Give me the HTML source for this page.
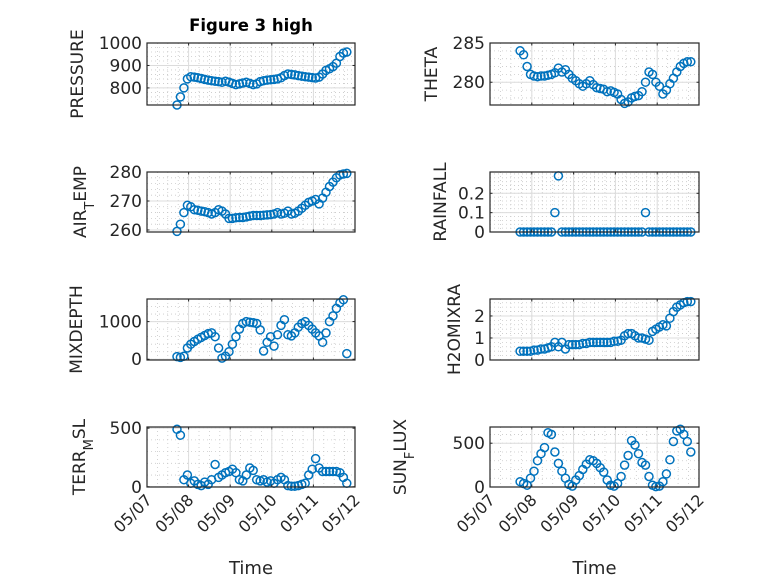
<!DOCTYPE html>
<html><head><meta charset="utf-8"><style>
body{margin:0;background:#fff;}
svg text{font-family:"DejaVu Sans","Liberation Sans",sans-serif;fill:#262626;}
</style></head><body>
<svg id="fig" width="778" height="583" viewBox="0 0 778 583" xmlns="http://www.w3.org/2000/svg">
<rect width="778" height="583" fill="#fff"/>
<text x="251" y="31" text-anchor="middle" font-size="16.5" font-weight="bold" style="fill:#000">Figure 3 high</text>
</svg>
<script>
const times = [];
for (let i = 0; i < 50; i++) times.push(0.72 + i / 12);
const xTickLabels = ["05/07","05/08","05/09","05/10","05/11","05/12"];
const pressure = [724,760,800,840,850,848,845,842,838,835,832,830,828,825,830,826,820,815,818,822,825,820,815,818,828,832,835,836,838,840,845,855,862,860,858,855,852,850,848,846,844,848,862,878,885,895,910,940,955,960];
const theta = [284,283.5,282,281,280.8,280.7,280.8,280.8,280.9,281,281.2,281.8,281.3,281.6,281,280.5,280.2,279.8,279.5,279.8,280.2,279.7,279.3,279.2,279.1,278.8,278.9,278.7,278.5,277.8,277.3,277.5,278,278.2,278.3,278.8,280,281.3,281,280,279.5,278.5,279,279.8,280.5,281.3,282,282.4,282.6,282.6];
const airTemp = [259.5,262,266,268.5,268,267,266.8,266.5,266.3,266,265.5,266,267,266.5,265.5,264,264,264.2,264.3,264.3,264.5,264.8,265,265,265,265.1,265.2,265.3,265.5,266,265.5,265.8,266.5,265.5,265.8,266.5,267.5,268.5,269.5,270,270.5,269,271,273,275,276.5,278,279,279.3,279.5];
const rainfall = [0,0,0,0,0,0,0,0,0,0,0.1,0.29,0,0,0,0,0,0,0,0,0,0,0,0,0,0,0,0,0,0,0,0,0,0,0,0,0.1,0,0,0,0,0,0,0,0,0,0,0,0,0];
const mixDepth = [70,50,80,300,400,470,530,580,630,680,700,600,300,30,80,200,400,600,800,950,1000,980,970,950,780,220,450,600,350,650,900,1050,650,620,700,850,950,1000,900,800,700,620,450,700,1000,1150,1350,1500,1580,150];
const h2oMix = [.4,.4,.4,.4,.45,.45,.5,.5,.55,.6,.8,.6,.8,.5,.7,.7,.7,.7,.75,.75,.8,.8,.8,.8,.8,.8,.8,.85,.85,.9,1.1,1.2,1.2,1.1,1.0,1.0,.95,.9,1.3,1.4,1.5,1.6,1.55,1.9,2.2,2.4,2.5,2.6,2.65,2.65];
const terrMsl = [490,440,60,100,30,50,20,10,40,20,60,190,80,100,120,130,150,120,60,50,100,160,140,60,50,60,40,50,30,60,80,60,10,5,5,10,20,30,100,150,240,160,130,130,130,130,130,120,80,30];
const sunFlux = [60,40,20,100,180,300,380,450,620,600,400,270,180,100,30,10,80,130,200,260,310,300,270,220,170,80,20,10,40,120,250,360,530,480,380,280,250,120,20,5,10,60,150,310,520,640,660,600,520,400];

const NS = "http://www.w3.org/2000/svg";
const svg = document.getElementById('fig');
function mk(tag, attrs, parent) {
  const e = document.createElementNS(NS, tag);
  for (const k in attrs) e.setAttribute(k, attrs[k]);
  (parent || svg).appendChild(e);
  return e;
}
const cols = [{x0:147,x1:355},{x0:490,x1:699}];
const rows = [{y0:43,y1:105},{y0:172,y1:232},{y0:299,y1:360},{y0:427,y1:487}];
const panels = [
  {name:'pressure',data:pressure,c:0,r:0,ymin:724,ymax:1000,ticks:[800,900,1000],minor:20,label:['PRESSURE'],lx:83},
  {name:'theta',data:theta,c:1,r:0,ymin:277.1,ymax:285,ticks:[280,285],minor:1,label:['THETA'],lx:437},
  {name:'air-temp',data:airTemp,c:0,r:1,ymin:259.3,ymax:280,ticks:[260,270,280],minor:2,label:['AIR','T','EMP'],lx:86},
  {name:'rainfall',data:rainfall,c:1,r:1,ymin:0,ymax:0.31,ticks:[0,0.1,0.2],minor:0.02,label:['RAINFALL'],lx:446},
  {name:'mix-depth',data:mixDepth,c:0,r:2,ymin:-20,ymax:1600,ticks:[0,1000],minor:200,label:['MIXDEPTH'],lx:82},
  {name:'h2o-mix-ratio',data:h2oMix,c:1,r:2,ymin:0,ymax:2.77,ticks:[0,1,2],minor:0.2,label:['H2OMIXRA'],lx:460},
  {name:'terr-msl',data:terrMsl,c:0,r:3,ymin:-2,ymax:510,ticks:[0,500],minor:100,label:['TERR','M','SL'],lx:85},
  {name:'sun-flux',data:sunFlux,c:1,r:3,ymin:0,ymax:685,ticks:[0,500],minor:100,label:['SUN','F','LUX'],lx:406}
];
panels.forEach(p => {
  const {x0,x1} = cols[p.c], {y0,y1} = rows[p.r];
  const xs = t => x0 + (t / 5) * (x1 - x0);
  const ys = v => y1 - (v - p.ymin) / (p.ymax - p.ymin) * (y1 - y0);
  const g = mk('g', {});
  
  
  mk('rect', {x:x0,y:y0,width:x1-x0,height:y1-y0,fill:'#fff'}, g);
  for (let v = Math.ceil(p.ymin / p.minor) * p.minor; v <= p.ymax; v += p.minor) {
    const y = ys(v);
    mk('line', {x1:x0,x2:x1,y1:y,y2:y,stroke:'#c8c8c8','stroke-width':0.8,'stroke-dasharray':'1,3'}, g);
  }
  for (let d = 0; d < 5; d += 0.25) {
    const x = xs(d);
    mk('line', {x1:x,x2:x,y1:y0,y2:y1,stroke:'#c8c8c8','stroke-width':0.8,'stroke-dasharray':'1,3'}, g);
  }
  p.ticks.forEach(v => { const y = ys(v); mk('line', {x1:x0,x2:x1,y1:y,y2:y,stroke:'#dcdcdc','stroke-width':1}, g); });
  for (let d = 1; d < 5; d++) { const x = xs(d); mk('line', {x1:x,x2:x,y1:y0,y2:y1,stroke:'#dcdcdc','stroke-width':1}, g); }
  const ser = mk('g', {fill:'none',stroke:'#0072BD','stroke-width':1.5}, g);
  
  
  p.data.forEach((v, i) => {
    const c = mk('circle', {cx:xs(times[i]).toFixed(1), cy:ys(v).toFixed(1), r:4}, ser);
    
    
  });
  mk('rect', {x:x0,y:y0,width:x1-x0,height:y1-y0,fill:'none',stroke:'#262626','stroke-width':1.2}, g);
  p.ticks.forEach(v => {
    const y = ys(v);
    mk('line', {x1:x0,x2:x0+2.5,y1:y,y2:y,stroke:'#262626'}, g);
    mk('line', {x1:x1,x2:x1-2.5,y1:y,y2:y,stroke:'#262626'}, g);
    const t = mk('text', {x:x0-5,y:y+6,'text-anchor':'end','font-size':17}, g);
    
    
    t.textContent = String(v);
  });
  for (let d = 0; d <= 5; d++) {
    const x = xs(d);
    mk('line', {x1:x,x2:x,y1:y1,y2:y1-2.5,stroke:'#262626'}, g);
    mk('line', {x1:x,x2:x,y1:y0,y2:y0+2.5,stroke:'#262626'}, g);
    if (p.r === 3) {
      const t = mk('text', {x:x+6,y:y1+14,'text-anchor':'end','font-size':16,transform:`rotate(-45 ${x+6} ${y1+14})`}, g);
      
      
      t.textContent = xTickLabels[d];
    }
  }
  if (p.r === 3) {
    const t = mk('text', {x:(x0+x1)/2,y:574,'text-anchor':'middle','font-size':18}, g);
    
    
    t.textContent = 'Time';
  }
  const cy = (y0 + y1) / 2;
  const lab = mk('text', {x:p.lx,y:cy,'text-anchor':'middle','font-size':17,transform:`rotate(-90 ${p.lx} ${cy})`}, g);
  
  
  p.label.forEach((s, k) => {
    const ts = mk('tspan', {}, lab);
    if (k === 1) { ts.setAttribute('baseline-shift', 'sub'); ts.setAttribute('font-size', '13'); }
    ts.textContent = s;
  });
});
</script>
</body></html>
